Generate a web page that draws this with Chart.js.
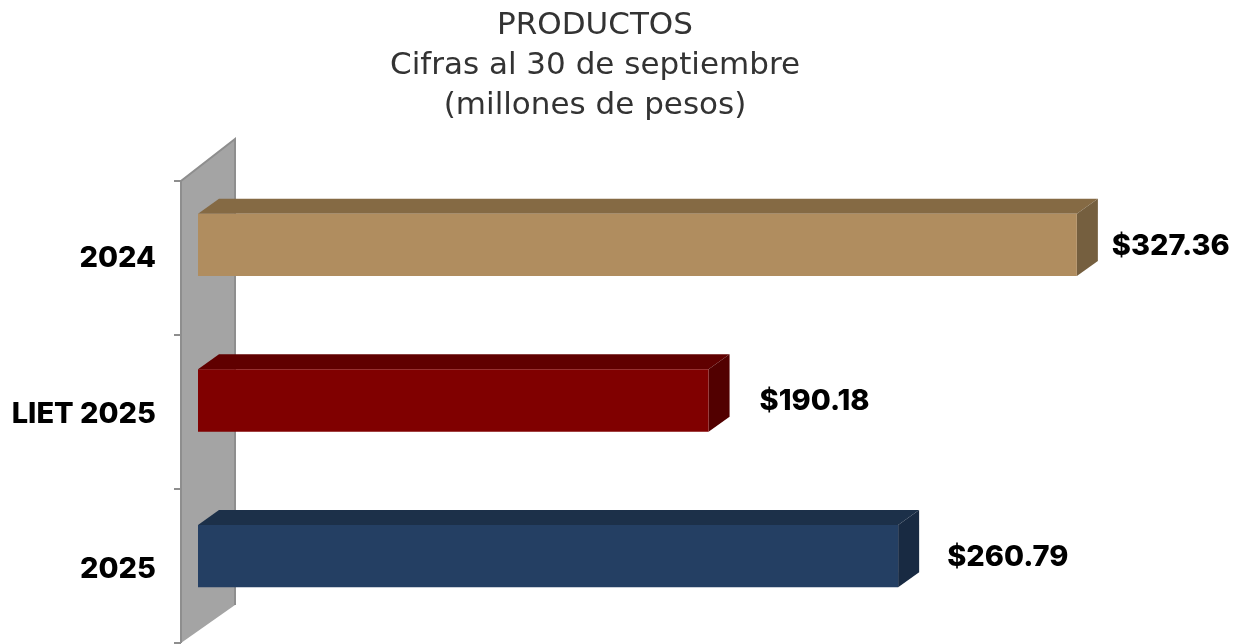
<!DOCTYPE html>
<html>
<head>
<meta charset="utf-8">
<script src="https://cdn.jsdelivr.net/npm/chart.js@4"></script>
<style>
  html, body { margin: 0; padding: 0; background: #fff; }
  canvas { display: block; }
</style>
</head>
<body>
<canvas id="myChart" width="1241" height="644"></canvas>
<script>
const titleLines = ["PRODUCTOS", "Cifras al 30 de septiembre", "(millones de pesos)"];
const categories = ["2024", "LIET 2025", "2025"];
const values = [327.36, 190.18, 260.79];
const frontColors = ["#B08D5F", "#800000", "#243F63"];
const topColors = ["#856A44", "#600000", "#1C3049"];
const sideColors = ["#755F3F", "#520000", "#182A42"];

const labelFont = "800 29px Inter, 'DejaVu Sans'";
const labelGaps = [35, 51, 49];

const depthX = 21, depthY = -15;

function poly(ctx, color, pts) {
  ctx.fillStyle = color;
  ctx.beginPath();
  pts.forEach((p, i) => (i ? ctx.lineTo(p[0], p[1]) : ctx.moveTo(p[0], p[1])));
  ctx.closePath();
  ctx.fill();
}

const fake3d = {
  id: "fake3d",
  beforeDatasetsDraw(chart) {
    const ctx = chart.ctx;
    const area = chart.chartArea;

    // back wall
    const wl = area.left - 17, wr = area.left + 37;
    const wt = area.top + 14, wb = area.bottom + 9;
    ctx.save();
    poly(ctx, "#A4A4A4", [[wl, wt], [wr, wt - 42], [wr, wb - 38], [wl, wb]]);
    ctx.strokeStyle = "#8E8E8E";
    ctx.lineWidth = 2;
    ctx.beginPath();
    ctx.moveTo(wl, wb);
    ctx.lineTo(wl, wt);
    ctx.lineTo(wr, wt - 42);
    ctx.lineTo(wr, wb - 38);
    ctx.stroke();
    for (let i = 0; i <= categories.length; i++) {
      const y = wt + i * (wb - wt) / categories.length;
      ctx.beginPath();
      ctx.moveTo(wl - 7, y);
      ctx.lineTo(wl, y);
      ctx.stroke();
    }

    // top and side faces of the bars
    chart.getDatasetMeta(0).data.forEach((bar, i) => {
      const top = bar.y - bar.height / 2, bottom = bar.y + bar.height / 2;
      poly(ctx, topColors[i], [[bar.base, top], [bar.base + depthX, top + depthY],
        [bar.x + depthX, top + depthY], [bar.x, top]]);
      poly(ctx, sideColors[i], [[bar.x, top], [bar.x + depthX, top + depthY],
        [bar.x + depthX, bottom + depthY], [bar.x, bottom]]);
    });
    ctx.restore();
  },
  afterDatasetsDraw(chart) {
    const ctx = chart.ctx;
    ctx.save();
    ctx.font = labelFont;
    ctx.fillStyle = "#000";
    ctx.textAlign = "left";
    ctx.textBaseline = "middle";
    chart.getDatasetMeta(0).data.forEach((bar, i) => {
      ctx.fillText("$" + values[i].toFixed(2), bar.x + labelGaps[i], bar.y + 1);
    });
    ctx.restore();
  },
};

const ctx = document.getElementById("myChart").getContext("2d");

new Chart(ctx, {
  type: "bar",
  data: {
    labels: categories,
    datasets: [
      {
        data: values,
        backgroundColor: frontColors,
        barPercentage: 0.4,
        categoryPercentage: 1,
      },
    ],
  },
  options: {
    indexAxis: "y",
    responsive: false,
    animation: false,
    layout: { padding: { top: 0, right: 51, bottom: 10, left: 0 } },
    scales: {
      x: { display: false, min: 0, max: 369.5 },
      y: {
        afterFit: (scale) => {
          // the big tick padding would otherwise shrink the bands
          scale.width = 198;
          scale.paddingTop = 0;
          scale.paddingBottom = 0;
        },
        border: { display: false },
        grid: { display: false, drawTicks: false },
        ticks: {
          padding: 42,
          labelOffset: 13.5,
          color: "#000",
          font: { family: "Inter, 'DejaVu Sans'", size: 29, weight: 800 },
        },
      },
    },
    plugins: {
      legend: { display: false },
      tooltip: { enabled: false },
      title: {
        display: true,
        text: titleLines,
        color: "#333",
        padding: { top: 6, bottom: 41 },
        font: { family: "'DejaVu Sans'", size: 31, weight: "normal", lineHeight: 40 / 31 },
      },
    },
  },
  plugins: [fake3d],
});
</script>
</body>
</html>
